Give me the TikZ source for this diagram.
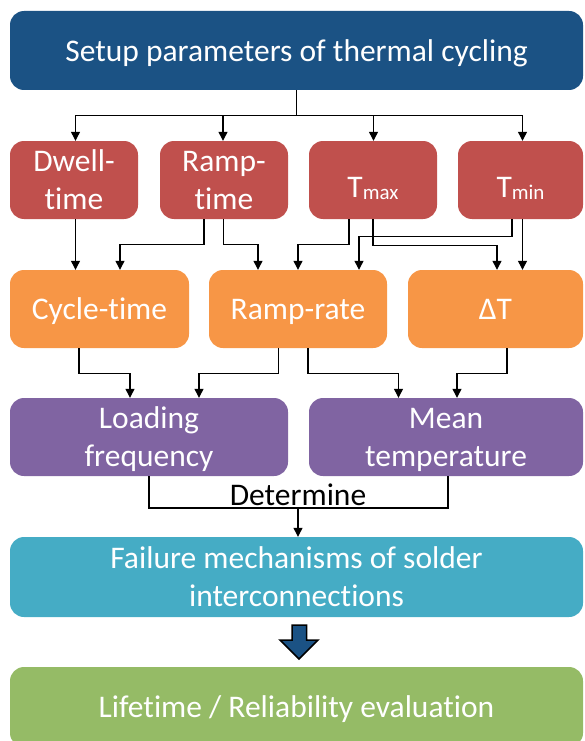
\documentclass[tikz,border=0pt]{standalone}
\usepackage{fontspec}
\setmainfont{Carlito}[Ligatures={NoCommon}]
\usepackage{tikz}
\usetikzlibrary{calc,positioning,arrows.meta}
\definecolor{setupblue}{HTML}{1B5284}
\definecolor{paramred}{HTML}{C0504D}
\definecolor{derivorange}{HTML}{F79646}
\definecolor{loadpurple}{HTML}{8064A2}
\definecolor{failteal}{HTML}{45ACC5}
\definecolor{lifegreen}{HTML}{95BB66}
\tikzstyle{box}   = [rounded corners=14pt, inner sep=0pt, align=center, text=white, text depth=0pt, font=\fontsize{31.5}{38}\selectfont]
\tikzstyle{arrow} = [line width=1.2pt, -{Triangle[length=9pt,width=9pt]}]
\newcommand{\lowidx}[1]{\raisebox{-2pt}{\fontsize{21}{21}\selectfont #1}}

\begin{document}
\begin{tikzpicture}[x=1pt,y=-1pt,
			param/.style={box, fill=paramred, minimum width=128pt, minimum height=78pt},
			deriv/.style={box, fill=derivorange, minimum height=78pt},
			wide/.style={box, minimum width=573pt, minimum height=80pt},
		]
		\useasboundingbox (0,0) rectangle (584,741);

		\node[wide, fill=setupblue, minimum height=79pt] (setup) at (296.5,50.5) {Setup parameters of thermal cycling};

		\node[param] (dwell)    at (74,180)  {Dwell-\\time};
		\node[param] (ramptime) at (224,180) {Ramp-\\time};
		\node[param, text height=34pt] (tmax) at (373,180) {T\lowidx{max}};
		\node[param, text height=34pt, minimum width=125pt] (tmin) at (520.5,180) {T\lowidx{min}};

		\node[deriv, minimum width=179pt] (cycle)    at (99.5,309)  {Cycle-time};
		\node[deriv, minimum width=178pt] (ramprate) at (298,309)   {Ramp-rate};
		\node[deriv, minimum width=175pt] (deltaT)   at (495.5,309) {ΔT};

		\node[box, fill=loadpurple, minimum width=278pt, minimum height=78pt] (loadfreq) at (149,437) {Loading\\frequency};
		\node[box, fill=loadpurple, minimum width=274pt, minimum height=78pt] (meantemp) at (446,437) {Mean\\temperature};

		\node[wide, fill=failteal]  (failure)  at (296.5,577) {Failure mechanisms of solder\\interconnections};
		\node[wide, fill=lifegreen] (lifetime) at (296.5,707) {Lifetime / Reliability evaluation};

		% setup -> parameters
		\draw[line width=1.2pt] (setup.south) -- ++(0,25) coordinate (split);
		\draw[arrow] (split) -| ([xshift=1.5pt]dwell.north);
		\draw[arrow] (split) -| ([xshift=-1pt]ramptime.north);
		\draw[arrow] (split) -| ([xshift=0.5pt]tmax.north);
		\draw[arrow] (split) -| ([xshift=2pt]tmin.north);

		% parameters -> derived quantities
		\draw[arrow] ([xshift=1.5pt]dwell.south) -- ([xshift=1.5pt]dwell.south |- cycle.north);
		\draw[arrow] ([xshift=-20pt]ramptime.south) -- ++(0,25) -| ([xshift=20.5pt]cycle.north);
		\draw[arrow] ([xshift=-0.5pt]ramptime.south) -- ++(0,25) -| ([xshift=-40pt]ramprate.north);
		\draw[arrow] ([xshift=-24pt]tmax.south) -- ++(0,25) -| (ramprate.north);
		\draw[arrow] ([xshift=-8.5pt]tmin.south) -- ++(0,17) -| ([xshift=61pt]ramprate.north);
		\draw[arrow] (tmax.south) -- ++(0,26) -| ([xshift=1.5pt]deltaT.north);
		\draw[arrow] ([xshift=2pt]tmin.south) -- ([xshift=2pt]tmin.south |- deltaT.north);

		% derived quantities -> loading conditions
		\draw[arrow] ([xshift=-20.5pt]cycle.south) -- ++(0,25) -| ([xshift=-19pt]loadfreq.north);
		\draw[arrow] ([xshift=-19.5pt]ramprate.south) -- ++(0,25) -| ([xshift=50pt]loadfreq.north);
		\draw[arrow] ([xshift=10pt]ramprate.south) -- ++(0,25) -| ([xshift=-47.5pt]meantemp.north);
		\draw[arrow] ([xshift=11.5pt]deltaT.south) -- ++(0,25) -| ([xshift=11pt]meantemp.north);

		% loading conditions -> failure
		\coordinate (join) at (298,508);
		\draw[line width=1.2pt] (loadfreq.south) |- (join) -| ([xshift=2pt]meantemp.south);
		\node[above, inner sep=2pt, font=\fontsize{31.5}{38}\selectfont] (determine) at (join) {Determine};
		\draw[arrow] (join) -- (join |- failure.north);

		% block arrow
		\draw[line width=1.5pt, fill=setupblue] (292,625) -- (306.5,625) -- (306.5,640) -- (318,640)
			-- (299,659) -- (280,640) -- (292,640) -- cycle;
	\end{tikzpicture}
\end{document}
